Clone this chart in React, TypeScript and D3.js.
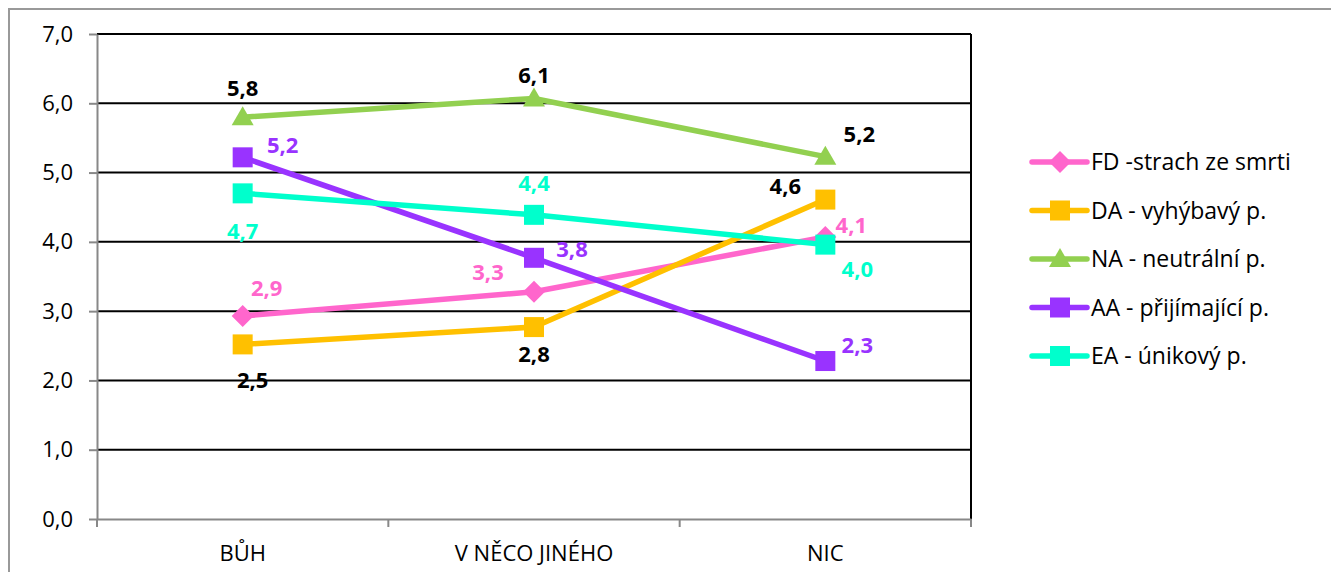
//@ts-nocheck
import React, { useRef, useEffect } from 'react'
import * as d3 from 'd3'

const categories = ['BŮH', 'V NĚCO JINÉHO', 'NIC']
const seriesNames = ['FD -strach ze smrti', 'DA - vyhýbavý p.', 'NA - neutrální p.', 'AA - přijímající p.', 'EA - únikový p.']
const fdValues = [2.93, 3.28, 4.07]
const daValues = [2.52, 2.77, 4.61]
const naValues = [5.8, 6.07, 5.23]
const aaValues = [5.22, 3.77, 2.28]
const eaValues = [4.7, 4.39, 3.96]
const yTicks = [0, 1, 2, 3, 4, 5, 6, 7]

const colors = ['#FF66CC', '#FFC000', '#92D050', '#9933FF', '#00FFCC']
const labelColors = ['#FF66CC', '#000000', '#000000', '#9933FF', '#00FFCC']
const symbols = ['diamond', 'square', 'triangle', 'square', 'square']
// label offsets (dx, dy) relative to each point
const labelOffsets = [
  [[24, -28], [-46, -19], [26, -12]],
  [[10, 36], [0, 27], [-40, -13]],
  [[0, -29], [0, -23], [34, -22]],
  [[40, -12], [38, -8], [32, -16]],
  [[0, 38], [0, -32], [32, 25]]
]

const W = 1331
const H = 572

export default function App() {
  const node = useRef(null)

  useEffect(() => {
    const svg = d3.select(node.current)
    svg.selectAll('*').remove()

    const margin = { top: 34, left: 97, right: 971, bottom: 519 }
    const x = d3.scaleBand().domain(categories).range([margin.left, margin.right])
    const y = d3.scaleLinear().domain([0, 7]).range([margin.bottom, margin.top])
    const font = "'Open Sans', 'Noto Sans', sans-serif"
    const fs = 22

    svg.append('rect').attr('x', 9).attr('y', 9).attr('width', W).attr('height', H).attr('fill', 'white').attr('stroke', '#999').attr('stroke-width', 2)

    // gridlines
    svg
      .append('g')
      .selectAll('line')
      .data(yTicks.filter((d) => d > 0))
      .join('line')
      .attr('x1', margin.left)
      .attr('x2', margin.right)
      .attr('y1', (d) => y(d))
      .attr('y2', (d) => y(d))
      .attr('stroke', '#000')
      .attr('stroke-width', 2)

    svg.append('line').attr('x1', margin.right).attr('x2', margin.right).attr('y1', margin.top).attr('y2', margin.bottom).attr('stroke', '#000').attr('stroke-width', 2)

    // y axis
    const yAxis = svg
      .append('g')
      .attr('transform', `translate(${margin.left},0)`)
      .call(d3.axisLeft(y).tickValues(yTicks).tickSize(8).tickSizeOuter(0).tickFormat((d) => d3.format('.1f')(d).replace('.', ',')))
    yAxis.selectAll('path,line').attr('stroke', '#888').attr('stroke-width', 2)
    yAxis.selectAll('text').attr('font-family', font).attr('font-size', fs).attr('fill', '#000').attr('x', -24)

    // x axis
    const xAxis = svg
      .append('g')
      .attr('transform', `translate(0,${margin.bottom})`)
      .call(d3.axisBottom(x).tickSize(0).tickSizeOuter(0))
    xAxis.select('.domain').attr('stroke', '#888').attr('stroke-width', 2)
    xAxis.selectAll('text').attr('font-family', font).attr('font-size', fs).attr('fill', '#000').attr('y', 26).attr('dy', '0.71em')
    svg
      .append('g')
      .selectAll('line')
      .data([0, 1, 2, 3])
      .join('line')
      .attr('x1', (i) => margin.left + i * x.step())
      .attr('x2', (i) => margin.left + i * x.step())
      .attr('y1', margin.bottom)
      .attr('y2', margin.bottom + 8)
      .attr('stroke', '#888')
      .attr('stroke-width', 2)

    const allSeries = [fdValues, daValues, naValues, aaValues, eaValues]
    const cx = (i) => x(categories[i]) + x.bandwidth() / 2
    const line = d3
      .line()
      .x((d, i) => cx(i))
      .y((d) => y(d))

    const drawMarker = (g, type, color, px, py) => {
      if (type === 'square') {
        g.append('rect').attr('x', px - 10).attr('y', py - 10).attr('width', 20).attr('height', 20).attr('fill', color)
      } else if (type === 'diamond') {
        g.append('path').attr('d', `M${px},${py - 11}L${px + 11},${py}L${px},${py + 11}L${px - 11},${py}Z`).attr('fill', color)
      } else {
        g.append('path').attr('d', `M${px},${py - 11}L${px + 11},${py + 8}L${px - 11},${py + 8}Z`).attr('fill', color)
      }
    }

    allSeries.forEach((vals, s) => {
      const g = svg.append('g')
      g.append('path').attr('d', line(vals)).attr('fill', 'none').attr('stroke', colors[s]).attr('stroke-width', 5.5).attr('stroke-linejoin', 'round')
      vals.forEach((v, i) => drawMarker(g, symbols[s], colors[s], cx(i), y(v)))
    })

    allSeries.forEach((vals, s) => {
      svg
        .append('g')
        .selectAll('text')
        .data(vals)
        .join('text')
        .attr('x', (d, i) => cx(i) + labelOffsets[s][i][0])
        .attr('y', (d, i) => y(d) + labelOffsets[s][i][1])
        .attr('dy', '0.35em')
        .attr('text-anchor', 'middle')
        .attr('font-family', font)
        .attr('font-size', fs)
        .attr('font-weight', 'bold')
        .attr('fill', labelColors[s])
        .text((d) => d3.format('.1f')(d).replace('.', ','))
    })

    // legend
    const legend = svg.append('g').attr('transform', 'translate(1032,162)')
    seriesNames.forEach((name, s) => {
      const ly = s * 48.5
      legend.append('line').attr('x1', 0).attr('x2', 55).attr('y1', ly).attr('y2', ly).attr('stroke', colors[s]).attr('stroke-width', 5.5).attr('stroke-linecap', 'round')
      drawMarker(legend, symbols[s], colors[s], 28, ly)
      legend
        .append('text')
        .attr('x', 59)
        .attr('y', ly)
        .attr('dy', '0.35em')
        .attr('font-family', font)
        .attr('font-size', 23)
        .attr('fill', '#000')
        .text(name)
    })
  }, [])

  return <svg ref={node} width={W} height={H} style={{ position: 'absolute', left: 0, top: 0 }}></svg>
}
